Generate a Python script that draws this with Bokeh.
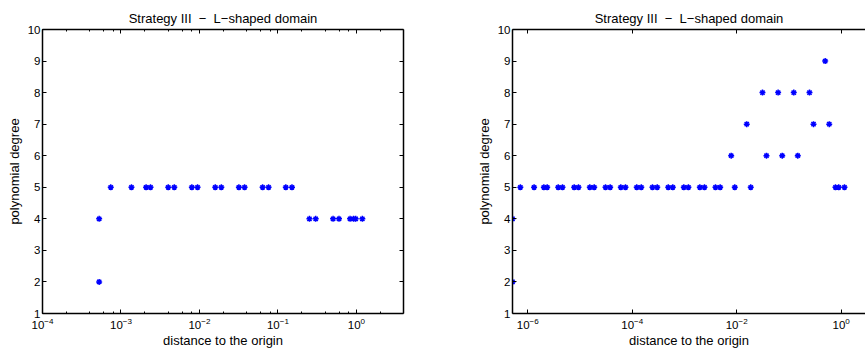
from bokeh.plotting import figure
from bokeh.models import (LogAxis, LinearAxis, LogTicker, FixedTicker, Range1d,
                          LogTickFormatter)
from bokeh.layouts import row
from bokeh.embed import file_html
from bokeh.resources import INLINE

# ---------------- data ----------------
title_text = "Strategy III\u00a0 \u2212 \u00a0L\u2212shaped domain"
x_label = "distance to the origin"
y_label = "polynomial degree"
y_ticks = [1, 2, 3, 4, 5, 6, 7, 8, 9, 10]
right_x_ticks = [1e-6, 1e-4, 1e-2, 1.0]

left_x = [5.27e-4, 5.27e-4, 7.41e-4, 1.36e-3, 2.09e-3, 2.38e-3, 4.0e-3, 4.78e-3,
          8.0e-3, 9.46e-3, 1.59e-2, 1.90e-2, 3.18e-2, 3.76e-2, 6.38e-2, 7.6e-2,
          0.126, 0.151, 0.252, 0.303, 0.504, 0.60, 0.83, 0.92, 0.98, 1.19]
left_y = [2, 4, 5, 5, 5, 5, 5, 5,
          5, 5, 5, 5, 5, 5, 5, 5,
          5, 5, 4, 4, 4, 4, 4, 4, 4, 4]

right_x = [5.1e-7, 5.1e-7, 7.2e-7, 1.32e-6, 2.03e-6, 2.35e-6, 3.82e-6, 4.62e-6,
           7.73e-6, 9.35e-6, 1.54e-5, 1.87e-5, 3.08e-5, 3.78e-5, 6.04e-5, 7.43e-5,
           1.22e-4, 1.49e-4, 2.44e-4, 3.01e-4, 4.89e-4, 5.98e-4, 9.72e-4, 1.19e-3,
           1.97e-3, 2.42e-3, 3.93e-3, 4.83e-3, 9.2e-3, 1.86e-2, 0.78, 0.90, 1.16,
           7.85e-3, 3.72e-2, 7.45e-2, 0.148,
           1.56e-2, 0.296, 0.592,
           3.12e-2, 6.22e-2, 0.124, 0.248,
           0.495]
right_y = [2, 4, 5, 5, 5, 5, 5, 5,
           5, 5, 5, 5, 5, 5, 5, 5,
           5, 5, 5, 5, 5, 5, 5, 5,
           5, 5, 5, 5, 5, 5, 5, 5, 5,
           6, 6, 6, 6,
           7, 7, 7,
           8, 8, 8, 8,
           9]

left_xlim = (1e-4, 10 ** 0.6)
right_xlim = (10 ** -6.293, 10 ** 0.467)
y_lim = (1, 10)

FONT = "Liberation Sans"
BLUE = "#0000ff"
INK = "#000000"


def style_axis(ax, show_labels=True):
    ax.axis_line_color = "black"
    ax.axis_line_width = 1.5
    ax.major_tick_line_color = "black"
    ax.minor_tick_line_color = "black"
    ax.major_tick_in = 4
    ax.major_tick_out = 0
    ax.minor_tick_in = 2
    ax.minor_tick_out = 0
    ax.major_label_text_font = FONT
    ax.axis_label_text_font = FONT
    ax.axis_label_text_font_style = "normal"
    ax.axis_label_text_color = INK
    ax.axis_label_text_font_size = "13px"
    if show_labels:
        ax.major_label_text_font_size = "11.5px"
        ax.major_label_text_color = INK
    else:
        ax.major_label_text_color = None
        ax.major_label_text_font_size = "1px"
        ax.major_label_standoff = 0


def make_panel(xs, ys, xlim, width, border_left, border_right, major_ticker,
               minor=True, right_axis=True):
    p = figure(width=width, height=351, x_axis_type="log",
               x_range=Range1d(*xlim), y_range=Range1d(*y_lim),
               output_backend="svg", toolbar_location=None,
               min_border_left=border_left, min_border_right=border_right,
               min_border_top=29, min_border_bottom=38)
    p.outline_line_color = None
    p.grid.visible = False
    p.background_fill_color = "white"
    p.border_fill_color = "white"

    p.title.text = title_text
    p.title.align = "center"
    p.title.text_font = FONT
    p.title.text_font_size = "13px"
    p.title.text_font_style = "normal"
    p.title.text_color = INK
    p.title.standoff = 7

    xa = p.xaxis[0]
    xa.ticker = major_ticker
    xa.formatter = LogTickFormatter()
    style_axis(xa)
    xa.axis_label = x_label
    xa.major_label_standoff = 4
    xa.axis_label_standoff = 1
    if not minor:
        xa.minor_tick_line_color = None

    ya = p.yaxis[0]
    ya.ticker = FixedTicker(ticks=y_ticks)
    style_axis(ya)
    ya.axis_label = y_label
    ya.major_label_standoff = 2
    ya.axis_label_standoff = 3

    top = LogAxis(ticker=major_ticker)
    style_axis(top, show_labels=False)
    if not minor:
        top.minor_tick_line_color = None
    p.add_layout(top, "above")

    if right_axis:
        ra = LinearAxis(ticker=FixedTicker(ticks=y_ticks))
        style_axis(ra, show_labels=False)
        p.add_layout(ra, "right")

    p.scatter(xs, ys, marker="asterisk", size=6, line_width=1.5,
              line_color=BLUE, fill_color=BLUE)
    return p


p1 = make_panel(left_x, left_y, left_xlim, 468, 42, 65,
                LogTicker(desired_num_ticks=6), minor=True, right_axis=True)
p2 = make_panel(right_x, right_y, right_xlim, 397, 44, 0,
                FixedTicker(ticks=right_x_ticks, minor_ticks=[]),
                minor=False, right_axis=False)

layout = row(p1, p2)
open("out.html", "w").write(file_html(layout, INLINE))
